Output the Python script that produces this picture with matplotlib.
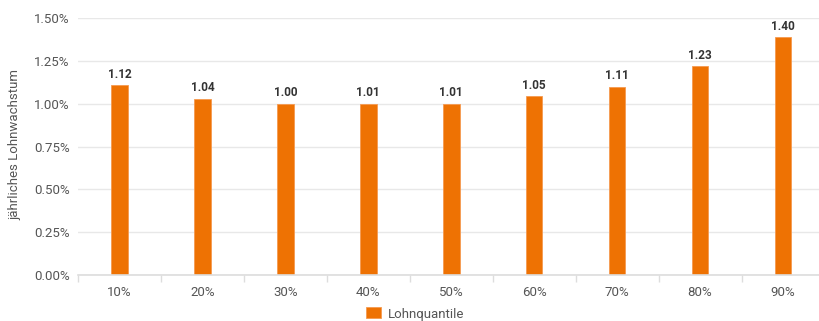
import matplotlib
matplotlib.use("Agg")
import matplotlib.pyplot as plt
from matplotlib.ticker import FuncFormatter, FixedLocator

categories = ["10%", "20%", "30%", "40%", "50%", "60%", "70%", "80%", "90%"]
values = [1.11, 1.03, 1.00, 1.00, 1.00, 1.045, 1.10, 1.22, 1.39]
labels = ["1.12", "1.04", "1.00", "1.01", "1.01", "1.05", "1.11", "1.23", "1.40"]
yticks = [0.0, 0.25, 0.5, 0.75, 1.0, 1.25, 1.5]

plt.rcParams['font.family'] = ['Roboto', 'DejaVu Sans']
fig = plt.figure(figsize=(8.19, 3.21), dpi=100)
ax = fig.add_axes([78/819, 46/321, (819-78)/819, (275-18)/321])

x = list(range(len(categories)))
bars = ax.bar(x, values, width=0.2, color="#EE7203", edgecolor="#F59A50", linewidth=0.6,
              label="Lohnquantile", zorder=3)
for xi, v, lab in zip(x, values, labels):
    ax.text(xi, v + 0.025, lab, ha="center", va="bottom", fontsize=8.5,
            fontweight="bold", color="#333333")

ax.set_ylim(0, 1.5)
ax.set_xlim(-0.5, (819-119)/83)
ax.set_yticks(yticks)
ax.yaxis.set_major_formatter(FuncFormatter(lambda v, p: f"{v:.2f}%"))
ax.set_xticks(x)
ax.set_xticklabels(categories)
ax.xaxis.set_minor_locator(FixedLocator([i - 0.5 for i in range(len(categories) + 1)]))
ax.tick_params(axis="x", which="major", length=0, pad=8, labelsize=9.5, labelcolor="#555555")
ax.tick_params(axis="x", which="minor", length=5, color="#dddddd", width=1)
ax.tick_params(axis="y", length=0, pad=6, labelsize=9.5, labelcolor="#555555")
ax.grid(axis="y", color="#e8e8e8", linewidth=1, zorder=0)
for s in ["top", "right", "left"]:
    ax.spines[s].set_visible(False)
ax.spines["bottom"].set_color("#dddddd")
ax.spines["bottom"].set_linewidth(1.2)
ax.spines["bottom"].set_zorder(4)

fig.text(15/819, 1 - 145/321, "jährliches Lohnwachstum", rotation=90, ha="center", va="center",
         fontsize=9.5, color="#555555")

leg = fig.legend(handles=[bars], labels=["Lohnquantile"], loc="center", bbox_to_anchor=(415/819, 1 - 314/321),
                 frameon=False, fontsize=9.5, handlelength=1.2, handleheight=0.9, handletextpad=0.5)
for t in leg.get_texts():
    t.set_color("#555555")

fig.savefig("out.png", dpi=100)
